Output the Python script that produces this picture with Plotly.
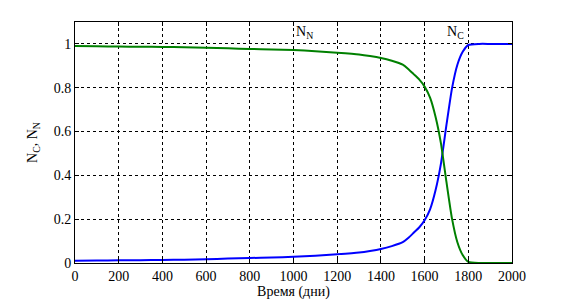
import plotly.graph_objects as go

# time in days
days = [0, 100, 200, 300, 400, 500, 600, 700, 800, 900, 1000, 1100, 1200, 1300,
        1350, 1400, 1450, 1500, 1525, 1550, 1575, 1600, 1625, 1650, 1675, 1700,
        1725, 1750, 1775, 1800, 1850, 1900, 1950, 2000]

n_n = [0.990, 0.989, 0.988, 0.987, 0.986, 0.985, 0.983, 0.980, 0.977, 0.975,
       0.972, 0.967, 0.960, 0.952, 0.945, 0.936, 0.923, 0.905, 0.886, 0.862,
       0.838, 0.805, 0.755, 0.668, 0.545, 0.370, 0.205, 0.095, 0.035, 0.005,
       0.0, 0.0, 0.0, 0.0]

n_c = [0.010, 0.011, 0.012, 0.013, 0.014, 0.015, 0.017, 0.020, 0.023, 0.025,
       0.028, 0.033, 0.040, 0.048, 0.055, 0.064, 0.077, 0.095, 0.114, 0.138,
       0.162, 0.195, 0.245, 0.332, 0.455, 0.630, 0.795, 0.905, 0.965, 0.995,
       1.0, 1.0, 1.0, 1.0]

y_ticks = [0, 0.2, 0.4, 0.6, 0.8, 1]
y_labels = ["0", "0.2", "0.4", "0.6", "0.8", "1"]

FONT = "Times New Roman"

fig = go.Figure()
fig.add_trace(go.Scatter(x=days, y=n_c, mode="lines",
                         line=dict(color="#0000ff", width=2, shape="spline", smoothing=0.5)))
fig.add_trace(go.Scatter(x=days, y=n_n, mode="lines",
                         line=dict(color="#008000", width=2, shape="spline", smoothing=0.5)))

fig.add_annotation(x=1000, y=1.1, xanchor="left", yanchor="top",
                   text="N<sub>N</sub>", showarrow=False,
                   font=dict(family=FONT, size=14, color="black"))
fig.add_annotation(x=1695, y=1.1, xanchor="left", yanchor="top",
                   text="N<sub>C</sub>", showarrow=False,
                   font=dict(family=FONT, size=14, color="black"))

axis_style = dict(showline=True, linecolor="black", linewidth=1, mirror="ticks",
                  ticks="inside", ticklen=4, tickcolor="black",
                  showgrid=True, gridcolor="black", griddash="dot", gridwidth=1,
                  zeroline=False, automargin=False,
                  tickfont=dict(family=FONT, size=14, color="black"))

fig.update_xaxes(range=[0, 2000], dtick=200,
                 title=dict(text="Время (дни)", standoff=2,
                            font=dict(family=FONT, size=14, color="black")),
                 **axis_style)
fig.update_yaxes(range=[0, 1.1], tickvals=y_ticks, ticktext=y_labels,
                 title=dict(text="N<sub>C</sub>, N<sub>N</sub>", standoff=12,
                            font=dict(family=FONT, size=14, color="black")),
                 **axis_style)

# the page body adds an 8px offset, so the figure is 8px smaller
fig.update_layout(width=560, height=296, showlegend=False,
                  margin=dict(l=67, r=56, t=14, b=41),
                  paper_bgcolor="white", plot_bgcolor="white",
                  font=dict(family=FONT, size=14, color="black"))

fig.write_html("out.html")
